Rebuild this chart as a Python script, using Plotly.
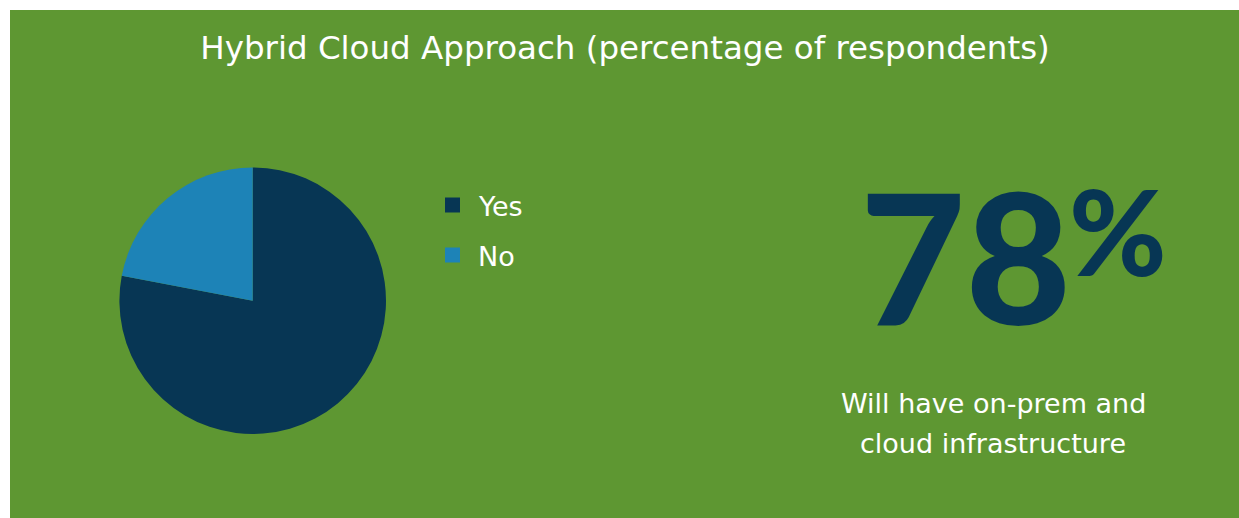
import plotly.graph_objects as go

# Data
labels = ["Yes", "No"]
values = [78, 22]
colors = ["#073654", "#1D83B7"]
title_text = "Hybrid Cloud Approach (percentage of respondents)"
big_number = "78"
big_suffix = "%"
caption_lines = ["Will have on-prem and", "cloud infrastructure"]

W, H = 1239, 518
GREEN = "#5E9732"
NAVY = "#073654"
TXT_FONT = "DejaVu Sans"
NUM_FONT = "Lato Black, Lato"

fig = go.Figure()
fig.add_trace(go.Pie(
    labels=labels,
    values=values,
    marker=dict(colors=colors, line=dict(width=0)),
    sort=False,
    direction="clockwise",
    rotation=0,
    textinfo="none",
    hoverinfo="label+percent",
    domain=dict(x=[119.4 / W, 386.0 / W], y=[84.0 / H, 350.6 / H]),
    showlegend=False,
))

shapes = [dict(type="rect", xref="paper", yref="paper", x0=10 / W, x1=1, y0=0, y1=1 - 10 / H,
               fillcolor=GREEN, line=dict(width=0), layer="below")]
annotations = []

# manual legend
leg_x = 445
leg_y0 = 205
leg_gap = 50
for i, (lab, col) in enumerate(zip(labels, colors)):
    cy = leg_y0 + i * leg_gap
    shapes.append(dict(type="rect", xref="paper", yref="paper",
                       x0=leg_x / W, x1=(leg_x + 15) / W,
                       y0=1 - (cy + 7.5) / H, y1=1 - (cy - 7.5) / H,
                       fillcolor=col, line=dict(width=0), layer="above"))
    annotations.append(dict(text=lab, x=476 / W, y=1 - (cy + 1) / H, xref="paper", yref="paper",
                            xanchor="left", yanchor="middle", showarrow=False,
                            font=dict(family=TXT_FONT, size=27, color="white")))

# big number
annotations.append(dict(text=big_number, x=1073 / W, y=1 - 254 / H, xref="paper", yref="paper",
                        xanchor="right", yanchor="middle", showarrow=False,
                        font=dict(family=NUM_FONT, size=182, color=NAVY, weight=900)))
annotations.append(dict(text=big_suffix, x=1067 / W, y=1 - 158 / H, xref="paper", yref="paper",
                        xanchor="left", yanchor="top", showarrow=False,
                        font=dict(family=NUM_FONT, size=118, color=NAVY, weight=900)))

for i, line in enumerate(caption_lines):
    annotations.append(dict(text=line, x=993 / W, y=1 - (403 + 40 * i) / H, xref="paper", yref="paper",
                            xanchor="center", yanchor="middle", showarrow=False,
                            font=dict(family=TXT_FONT, size=27, color="white")))

fig.update_layout(
    width=W, height=H,
    margin=dict(l=0, r=0, t=0, b=0),
    paper_bgcolor="white",
    plot_bgcolor="white",
    title=dict(text=title_text, x=625 / W, xanchor="center", y=1 - 48 / H, yanchor="middle",
               yref="container", font=dict(family=TXT_FONT, size=32.5, color="white")),
    shapes=shapes,
    annotations=annotations,
)

fig.write_html("out.html", config={"displayModeBar": False},
               post_script="document.body.style.margin='0px';document.body.style.overflow='hidden';")
